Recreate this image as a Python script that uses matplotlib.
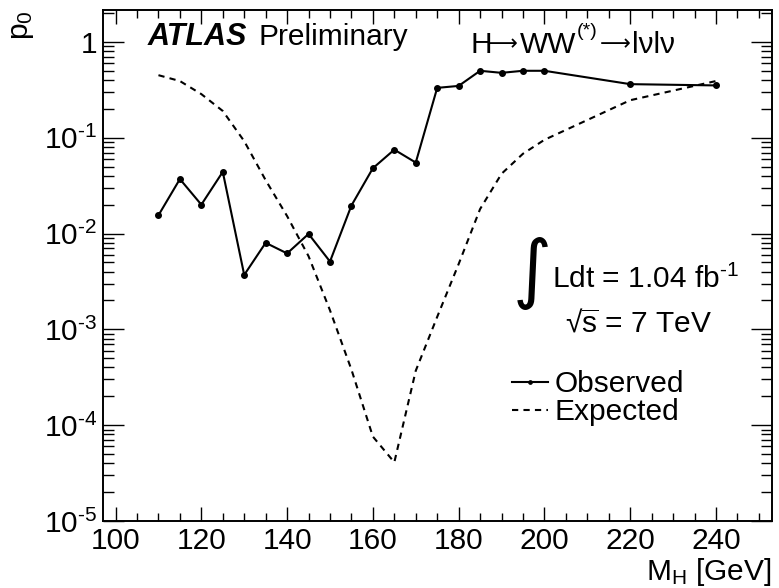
import matplotlib
matplotlib.use("Agg")
import math
import matplotlib.pyplot as plt
from matplotlib.ticker import LogLocator, FuncFormatter, MultipleLocator, NullFormatter

plt.rcParams['font.family'] = ['Liberation Sans', 'DejaVu Sans']
plt.rcParams['mathtext.fontset'] = 'custom'
plt.rcParams['mathtext.rm'] = 'Liberation Sans'
plt.rcParams['mathtext.it'] = 'Liberation Sans:italic'
plt.rcParams['mathtext.bf'] = 'Liberation Sans:bold'
plt.rcParams['mathtext.fallback'] = 'stixsans'

# ---- data ----
mass_obs = [110, 115, 120, 125, 130, 135, 140, 145, 150, 155, 160, 165, 170,
            175, 180, 185, 190, 195, 200, 220, 240]
p0_obs = [0.0155, 0.037, 0.020, 0.044, 0.0037, 0.0080, 0.0062, 0.0099, 0.0051,
          0.0196, 0.048, 0.075, 0.055, 0.331, 0.347, 0.499, 0.475, 0.499, 0.499,
          0.362, 0.351]
mass_exp = [110, 115, 120, 125, 130, 135, 140, 145, 150, 155, 160, 165, 170,
            175, 180, 185, 190, 195, 200, 220, 240]
p0_exp = [0.449, 0.39, 0.285, 0.19, 0.092, 0.036, 0.0152, 0.0058, 0.00158,
          3.8e-4, 7.6e-5, 4.1e-5, 3.7e-4, 0.00135, 0.0048, 0.018, 0.042, 0.068,
          0.095, 0.246, 0.39]
x_ticks = [100, 120, 140, 160, 180, 200, 220, 240]

W, H = 779, 588
fig = plt.figure(figsize=(W / 100, H / 100), dpi=100)
ax = fig.add_axes([102.7 / W, 1 - 521 / H, (771.7 - 102.7) / W, (521 - 10) / H])

ax.plot(mass_exp, p0_exp, color='black', lw=1.5, linestyle=(0, (3, 2.5)),
        label='Expected')
ax.plot(mass_obs, p0_obs, color='black', lw=1.5, marker='o', markersize=4,
        label='Observed')

ax.set_yscale('log')
ax.set_xlim(97, 253)
ax.set_ylim(1e-5, 2.15)

ax.xaxis.set_major_locator(plt.FixedLocator(x_ticks))
ax.xaxis.set_minor_locator(MultipleLocator(5))
ax.yaxis.set_major_locator(LogLocator(base=10, numticks=20))
ax.yaxis.set_minor_locator(LogLocator(base=10, subs=range(2, 10), numticks=20))
ax.yaxis.set_minor_formatter(NullFormatter())


def yfmt(v, pos):
    e = int(round(math.log10(v)))
    if e == 0:
        return '1'
    return r'$10^{\text{-}%d}$' % (-e)


ax.yaxis.set_major_formatter(FuncFormatter(yfmt))

for s in ax.spines.values():
    s.set_linewidth(1.4)

fs = 21.5
ax.tick_params(which='both', direction='in', top=True, right=True, width=1.0,
               labelsize=fs)
ax.tick_params(axis='x', which='major', length=10, pad=4)
ax.tick_params(axis='x', which='minor', length=5.5)
ax.tick_params(axis='y', which='major', length=15, pad=4)
ax.tick_params(axis='y', which='minor', length=8)


def ftext(px, py, s, **kw):
    return fig.text(px / W, 1 - py / H, s, **kw)


ftext(148, 45, 'ATLAS', fontsize=22, fontweight='bold', fontstyle='italic',
      va='baseline', ha='left')
ftext(258.3, 45, 'Preliminary', fontsize=fs, va='baseline', ha='left')

# H -> WW(*) -> l nu l nu
ftext(470, 53.3, 'H', fontsize=fs, va='baseline', ha='left')
ftext(502.5, 50.0, '\u27f6', fontsize=15.5, va='baseline', ha='center',
      family=['DejaVu Sans'])
ftext(519.5, 53.3, 'WW', fontsize=fs, va='baseline', ha='left')
ftext(576.5, 36.5, '(*)', fontsize=14, va='baseline', ha='left')
ftext(615, 50.0, '\u27f6', fontsize=15.5, va='baseline', ha='center',
      family=['DejaVu Sans'])
ftext(632.5, 53.3, 'l\u03bdl\u03bd', fontsize=fs, va='baseline', ha='left')

ftext(532, 273, '\u222b', fontsize=54, va='center', ha='center',
      family=['DejaVu Sans'])
ftext(551.7, 288.3, r'Ldt = 1.04 fb$^{\text{-}1}$', fontsize=fs,
      va='baseline', ha='left')
ftext(565, 331.7, '\u221a$\\overline{\\mathregular{s}}$ = 7 TeV', fontsize=fs,
      va='baseline', ha='left')

handles, labels = ax.get_legend_handles_labels()
order = [labels.index('Observed'), labels.index('Expected')]
ax.legend([handles[i] for i in order], [labels[i] for i in order],
          loc='upper left', bbox_to_anchor=(511.7 / W, 1 - 370 / H),
          bbox_transform=fig.transFigure, frameon=False, fontsize=fs,
          handlelength=1.2, handletextpad=0.25, borderpad=0, borderaxespad=0,
          labelspacing=0.0, numpoints=1, markerscale=0.6)

ftext(772, 580, r'M$_{\mathregular{H}}$ [GeV]', fontsize=fs,
      va='baseline', ha='right')
ftext(22, 10, r'p$_{\mathregular{0}}$', fontsize=fs, rotation=90,
      va='top', ha='center')

fig.savefig('out.png', dpi=100)
